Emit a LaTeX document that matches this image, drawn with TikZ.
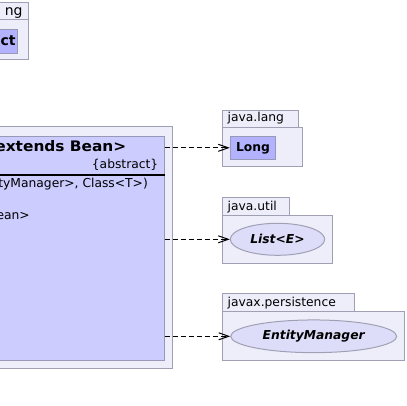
\documentclass[tikz,border=0pt]{standalone}
\usepackage{fontspec}
\setmainfont{DejaVu Sans}
\usetikzlibrary{arrows.meta,shapes.geometric}
\definecolor{pkgfill}{HTML}{EEEEFB}
\definecolor{pkgline}{HTML}{A0A0B4}
\definecolor{clsfill}{HTML}{CCCCFF}
\definecolor{clsline}{HTML}{9898B8}
\definecolor{longfill}{HTML}{B2B2FF}
\definecolor{ellfill}{HTML}{DDDDFA}
\tikzset{
  pkg/.style={fill=pkgfill, draw=pkgline, line width=1pt},
  clsbox/.style={rectangle, fill=clsfill, draw=clsline, line width=1pt, inner sep=0pt},
  smallcls/.style={rectangle, fill=longfill, draw=clsline, line width=1pt, inner sep=0pt,
     font=\fontsize{12.3}{14}\selectfont\bfseries, text height=9pt, text depth=1pt},
  iface/.style={ellipse, fill=ellfill, draw=pkgline, line width=1pt, inner sep=0pt,
     font=\fontsize{12.3}{14}\selectfont\bfseries\itshape},
  lbl/.style={inner sep=0pt, font=\fontsize{12.3}{14}\selectfont},
  dep/.style={draw=black, line width=1pt, dash pattern=on 5pt off 3pt,
     -{Straight Barb[length=10pt,width=7pt,line width=1pt]}},
}
\begin{document}
\begin{tikzpicture}[x=1pt,y=-1pt]
\useasboundingbox (0,0) rectangle (407,406);
\clip (0,0) rectangle (407,406);
% top-left package (cut)
\path[pkg] (-60,3) rectangle (28,20);
\path[pkg] (-60,20) rectangle (28,60);
\node[lbl, font=\fontsize{14}{16}\selectfont, anchor=base east] (tlname) at (22.8,15.8) {ng};
\node[smallcls, anchor=north east, minimum width=70pt, minimum height=23.4pt] (obj) at (17.7,29.3) {};
\node[lbl, font=\fontsize{14}{16}\selectfont\bfseries, anchor=base east] (objtxt) at (15.8,45.3) {ct};
% main package (cut)
\path[pkg] (-60,127) rectangle (172.7,368);
\node[clsbox, anchor=north east, minimum width=230pt, minimum height=224pt] (cls) at (164.7,136) {};
\draw[line width=2pt] (cls.west |- 0,175) -- (cls.east |- 0,175);
\node[lbl, font=\fontsize{14.5}{16}\selectfont\bfseries\addfontfeature{FakeStretch=1.06}, anchor=base east] (title) at (126.5,151.7) {extends Bean>};
\node[lbl, anchor=base east] (abs) at (158.5,168.5) {\{abstract\}};
\node[lbl, anchor=base east] (ctor) at (148,187.5) {tyManager>, Class<T>)};
\node[lbl, anchor=base east] (meth) at (30,219.5) {ean>};
% java.lang
\path[pkg] (222.3,110.3) rectangle (298.7,127.3);
\path[pkg] (222.3,127.3) rectangle (302.3,167);
\node[lbl, anchor=base west] (plang) at (227.5,122) {java.lang};
\node[smallcls, minimum width=45.4pt, minimum height=23pt] (lng) at (253,147.8) {Long};
% java.util
\path[pkg] (222.3,197.3) rectangle (289.3,215.3);
\path[pkg] (222.3,215.3) rectangle (332.3,263.3);
\node[lbl, anchor=base west] (putil) at (227.5,210.3) {java.util};
\node[iface, minimum width=94.4pt, minimum height=32pt] (lst) at (277.5,239.3) {List<E>};
% javax.persistence
\path[pkg] (222.3,293.3) rectangle (354.3,311.3);
\path[pkg] (222.3,311.3) rectangle (404.3,360);
\node[lbl, anchor=base west] (ppers) at (227.5,306.5) {javax.persistence};
\node[iface, minimum width=166pt, minimum height=32.7pt] (em) at (313.7,336.3) {EntityManager};
% dependencies
\draw[dep] (cls.east |- lng.west) -- (lng.west);
\draw[dep] (cls.east |- lst.west) -- (lst.west);
\draw[dep] (cls.east |- em.west) -- (em.west);
\end{tikzpicture}
\end{document}
